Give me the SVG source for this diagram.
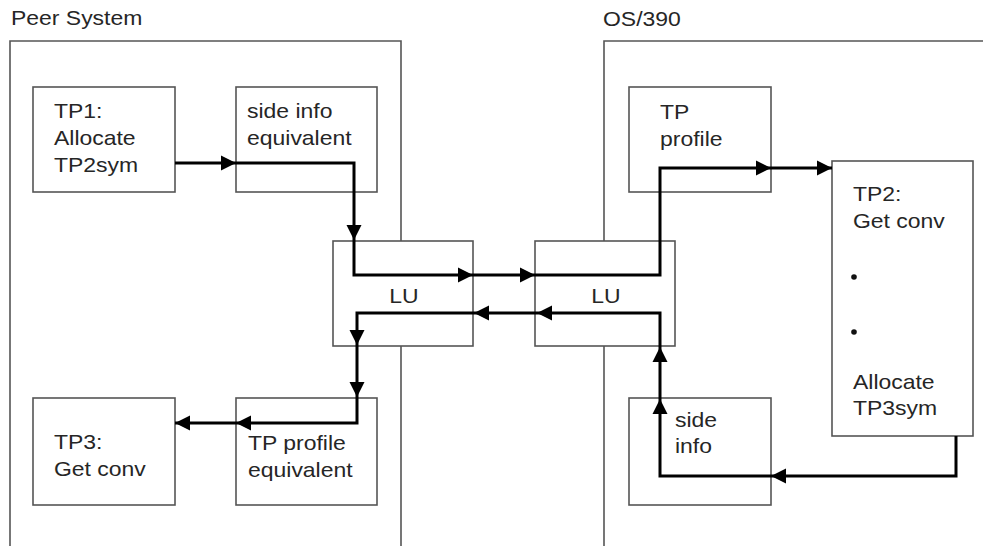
<svg xmlns="http://www.w3.org/2000/svg" xmlns:xlink="http://www.w3.org/1999/xlink" width="983" height="546" viewBox="0 0 983 546">
<style>
.box{fill:#fff;stroke:#555;stroke-width:1.6}
.frame{fill:none;stroke:#555;stroke-width:1.6}
.t{font-family:"Liberation Sans",Arial,sans-serif;font-size:20.5px;fill:#262626}
.c{fill:none;stroke:#000;stroke-width:3;stroke-linejoin:miter}
.ah{fill:#000}
</style>
<defs>
<polygon id="ah" class="ah" points="0,0 -15,-7.5 -15,7.5"/>
</defs>
<rect width="983" height="546" fill="#fff"/>
<g id="peer-system">
<path class="frame" d="M10,546 V41 H401 V546"/>
<text class="t" transform="matrix(1.12,0,0,1,11,25)">Peer System</text>
</g>
<g id="os390">
<path class="frame" d="M604,546 V41 H983"/>
<text class="t" transform="matrix(1.12,0,0,1,603,26)">OS/390</text>
</g>
<g id="tp1">
<rect class="box" x="33" y="87" width="142" height="105"/>
<text class="t" transform="matrix(1.12,0,0,1,54,118)">TP1:</text>
<text class="t" transform="matrix(1.12,0,0,1,54,145)">Allocate</text>
<text class="t" transform="matrix(1.12,0,0,1,54,172)">TP2sym</text>
</g>
<g id="side-info-equivalent">
<rect class="box" x="236" y="87" width="141" height="105"/>
<text class="t" transform="matrix(1.12,0,0,1,247,118)">side info</text>
<text class="t" transform="matrix(1.12,0,0,1,247,145)">equivalent</text>
</g>
<g id="lu-left">
<rect class="box" x="333" y="241" width="140" height="105"/>
<text class="t" text-anchor="middle" transform="matrix(1.12,0,0,1,404,303)">LU</text>
</g>
<g id="lu-right">
<rect class="box" x="535" y="241" width="140" height="105"/>
<text class="t" text-anchor="middle" transform="matrix(1.12,0,0,1,606,303)">LU</text>
</g>
<g id="tp3">
<rect class="box" x="33" y="398" width="142" height="107"/>
<text class="t" transform="matrix(1.12,0,0,1,54,449)">TP3:</text>
<text class="t" transform="matrix(1.12,0,0,1,54,476)">Get conv</text>
</g>
<g id="tp-profile-equivalent">
<rect class="box" x="236" y="398" width="141" height="107"/>
<text class="t" transform="matrix(1.12,0,0,1,248,450)">TP profile</text>
<text class="t" transform="matrix(1.12,0,0,1,248,477)">equivalent</text>
</g>
<g id="tp-profile">
<rect class="box" x="629" y="87" width="142" height="105"/>
<text class="t" transform="matrix(1.12,0,0,1,660,119)">TP</text>
<text class="t" transform="matrix(1.12,0,0,1,660,146)">profile</text>
</g>
<g id="side-info">
<rect class="box" x="629" y="398" width="142" height="107"/>
<text class="t" transform="matrix(1.12,0,0,1,675,427)">side</text>
<text class="t" transform="matrix(1.12,0,0,1,675,453)">info</text>
</g>
<g id="tp2">
<rect class="box" x="832" y="161" width="141" height="275"/>
<text class="t" transform="matrix(1.12,0,0,1,853,201)">TP2:</text>
<text class="t" transform="matrix(1.12,0,0,1,853,228)">Get conv</text>
<circle cx="854" cy="277" r="2.8" fill="#111"/>
<circle cx="854" cy="332" r="2.8" fill="#111"/>
<text class="t" transform="matrix(1.12,0,0,1,853,389)">Allocate</text>
<text class="t" transform="matrix(1.12,0,0,1,853,415)">TP3sym</text>
</g>
<g id="connectors">
<path class="c" d="M175,163 H354 V275 H660 V168 H832"/>
<use xlink:href="#ah" transform="translate(236,163)"/>
<use xlink:href="#ah" transform="translate(354,240) rotate(90)"/>
<use xlink:href="#ah" transform="translate(473,275)"/>
<use xlink:href="#ah" transform="translate(535,275)"/>
<use xlink:href="#ah" transform="translate(771,168)"/>
<use xlink:href="#ah" transform="translate(832,168)"/>
<path class="c" d="M956,436 V476 H660 V313 H357 V423 H175"/>
<use xlink:href="#ah" transform="translate(771,476) rotate(180)"/>
<use xlink:href="#ah" transform="translate(660,399) rotate(-90)"/>
<use xlink:href="#ah" transform="translate(660,347) rotate(-90)"/>
<use xlink:href="#ah" transform="translate(537,313) rotate(180)"/>
<use xlink:href="#ah" transform="translate(474,313) rotate(180)"/>
<use xlink:href="#ah" transform="translate(357,345) rotate(90)"/>
<use xlink:href="#ah" transform="translate(357,397) rotate(90)"/>
<use xlink:href="#ah" transform="translate(236,423) rotate(180)"/>
<use xlink:href="#ah" transform="translate(175,423) rotate(180)"/>
</g>
</svg>
